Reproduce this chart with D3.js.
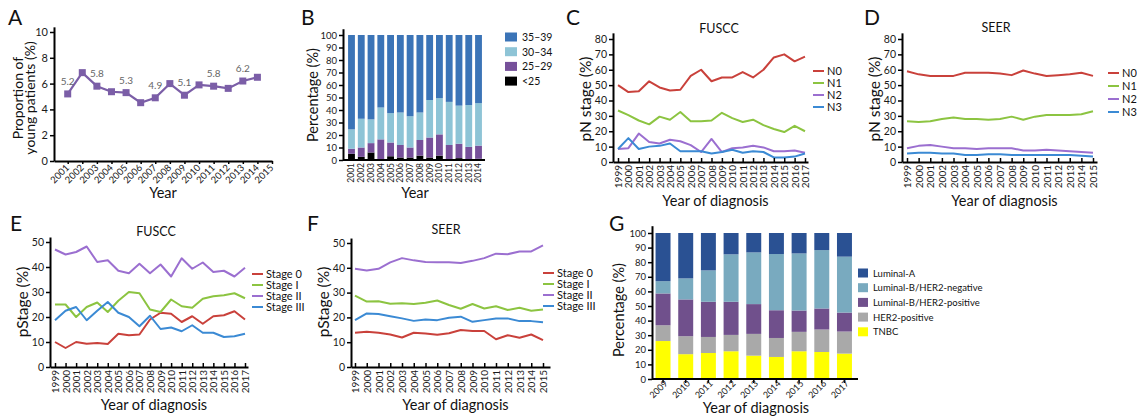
<!DOCTYPE html>
<html>
<head>
<meta charset="utf-8">
<script src="https://cdn.jsdelivr.net/npm/d3@7"></script>
<style>
  body { margin: 0; background: #fff; }
  svg { display: block; }
</style>
</head>
<body>
<svg id="fig" width="1137" height="417"></svg>
<script>
// ── DATA ───────────────────────────────────────────────────────────────────────
// A: proportion of young patients
const yearsA  = [2001, 2002, 2003, 2004, 2005, 2006, 2007, 2008, 2009, 2010, 2011, 2012, 2013, 2014];
const ticksA  = [2001, 2002, 2003, 2004, 2005, 2006, 2007, 2008, 2009, 2010, 2011, 2012, 2013, 2014, 2015];
const propA   = [5.2, 6.85, 5.8, 5.37, 5.3, 4.52, 4.9, 6.0, 5.1, 5.9, 5.8, 5.63, 6.2, 6.49];
const labelYearsA = [2001, 2003, 2005, 2007, 2009, 2011, 2013];

// B: age groups (stacked %)
const yearsB  = ["2001", "2002", "2003", "2004", "2005", "2006", "2007", "2008", "2009", "2010", "2011", "2012", "2013", "2014"];
const groupsB = ["<25", "25–29", "30–34", "35–39"];
const under25 = [5, 2.5, 6, 0.5, 3, 2, 2, 3.5, 2, 3.5, 0.5, 1.5, 0.5, 1];
const age2529 = [4, 7.5, 7.5, 16, 11, 10, 8, 12.5, 16, 17, 11.5, 11.5, 10, 10.5];
const age3034 = [15.5, 23, 19, 25.5, 23.5, 26, 25, 22, 30, 29, 34.5, 30.5, 33.5, 34];
const age3539 = [75.5, 67, 67.5, 58, 62.5, 62, 65, 62, 52, 50.5, 53.5, 56.5, 56, 54.5];

// C / E: FUSCC 1999–2017
const yearsFUSCC = [1999, 2000, 2001, 2002, 2003, 2004, 2005, 2006, 2007, 2008, 2009, 2010, 2011, 2012, 2013, 2014, 2015, 2016, 2017];
const fusccN0 = [50, 45.5, 46, 52.5, 48.5, 46.5, 47, 56, 60, 52.5, 55, 55, 58.5, 55, 60, 68, 70, 65.5, 68.5];
const fusccN1 = [33.5, 30.5, 27, 24.5, 29.5, 27.5, 32.5, 26.5, 26.5, 27, 32, 28.5, 26, 27.5, 24, 21.5, 19.5, 23.5, 20];
const fusccN2 = [8.5, 9, 18.5, 13, 12, 14.5, 13.5, 11, 6.5, 15, 6.5, 9, 9.5, 10.5, 9.5, 7, 7, 7.5, 6];
const fusccN3 = [8.5, 15.5, 8.5, 10, 10.5, 12, 7, 7, 7, 5.5, 6.5, 8, 6, 7, 6.5, 3, 3, 3.5, 5.5];

const fusccS0   = [10, 7.6, 10, 9.3, 9.6, 9.2, 13.3, 12.7, 13, 19, 21.7, 21.3, 18, 20.3, 17.3, 20.3, 20.7, 22.3, 19];
const fusccS1   = [25, 25, 20, 24, 25.8, 22, 26.5, 30, 29.5, 23, 22, 27, 24.3, 23.7, 27.3, 28.3, 28.7, 29.5, 27.5];
const fusccS2   = [47, 45, 46, 48.2, 42, 42.7, 38.5, 37.5, 41.3, 37.5, 41, 36.2, 43.5, 39.3, 41.8, 38, 38.5, 36.2, 39.7];
const fusccS3   = [18.7, 22.5, 24, 18.7, 22.5, 26, 21.7, 20, 16.3, 20.5, 15.2, 15.8, 14.3, 16.7, 13.7, 13.7, 12, 12.3, 13.3];

// D / F: SEER 1999–2015
const yearsSEER = [1999, 2000, 2001, 2002, 2003, 2004, 2005, 2006, 2007, 2008, 2009, 2010, 2011, 2012, 2013, 2014, 2015];
const seerN0 = [59, 57, 56, 56, 56, 58, 58, 58, 57.5, 56.5, 59.5, 57.5, 56, 56.5, 57, 58, 56];
const seerN1 = [26.5, 26, 26.5, 28, 29, 28, 28, 27.5, 28, 29.5, 27.5, 29.5, 30.5, 30.5, 30.5, 31, 33];
const seerN2 = [9, 10.5, 11, 10, 9, 9, 8.5, 9, 9, 9, 7.5, 7.5, 8, 7.5, 7, 6.5, 6];
const seerN3 = [5.5, 6, 6, 5.5, 5.5, 4.5, 4.5, 5, 5, 4.5, 4.5, 4.5, 4.5, 4.5, 4.5, 4, 3.5];

const seerS0 = [13.8, 14.2, 13.8, 13.1, 11.9, 13.8, 13.5, 13, 13.6, 14.9, 14.5, 14.5, 11.2, 12.8, 11.8, 13.1, 10.8];
const seerS1 = [28.8, 26.4, 26.5, 25.5, 25.7, 25.4, 25.9, 26.8, 25, 23.5, 25.4, 23.6, 24.5, 23, 23.9, 22.7, 23.2];
const seerS2 = [39.6, 38.9, 39.6, 42.2, 43.9, 43, 42.3, 42.2, 42.2, 41.9, 42.8, 43.9, 45.7, 45.5, 46.6, 46.6, 49];
const seerS3 = [18.9, 21.6, 21.4, 20.5, 19.6, 18.6, 19.2, 18.9, 19.9, 20.3, 18.2, 18.9, 19.6, 19.6, 18.5, 18.5, 18];

const nNames     = ["N0", "N1", "N2", "N3"];
const stageNames = ["Stage 0", "Stage I", "Stage II", "Stage III"];

// G: molecular subtypes (stacked %)
const yearsG    = ["2009", "2010", "2011", "2012", "2013", "2014", "2015", "2016", "2017"];
const subtypesG = ["TNBC", "HER2-positive", "Luminal-B/HER2-positive", "Luminal-B/HER2-negative", "Luminal-A"];
const tnbc      = [26, 17, 17.8, 19, 16, 15.1, 19, 18.5, 17.4];
const her2pos   = [10.8, 12.3, 11, 11.2, 14.9, 13, 13.3, 15.4, 15.1];
const lumBpos   = [21.8, 25.2, 24.1, 22.7, 20.4, 19, 14.6, 14.4, 13];
const lumBneg   = [8.4, 14.4, 21.5, 32.5, 35.4, 38.5, 39.1, 40, 38.3];
const lumA      = [33, 31.1, 25.6, 14.6, 13.3, 14.4, 14, 11.7, 16.2];

// ── STYLE ──────────────────────────────────────────────────────────────────────
const FONT = "Lato, 'Open Sans', sans-serif";
const lineColors = ["#c9413b", "#8cc441", "#9b6fd0", "#3b8ad4"];
const colorA     = "#7b5ea7";
const colorsB    = ["#000000", "#76509a", "#8ec4d6", "#3b74b7"];
const colorsG    = ["#ffff00", "#a9a9a9", "#70508c", "#79aabf", "#2a5193"];

const svg = d3.select("#fig").attr("font-family", FONT);

// ── HELPERS ────────────────────────────────────────────────────────────────────
function styleAxis(g, fs) {
  g.attr("font-family", FONT).attr("font-size", fs);
  g.select(".domain").attr("stroke", "#000").attr("stroke-width", 2);
  g.selectAll(".tick line").attr("stroke", "#000").attr("stroke-width", 1.5);
  g.selectAll(".tick text").attr("fill", "#1a1a1a");
  return g;
}

function text(x, y, s, size, opts = {}) {
  const t = svg.append("text")
    .attr("x", x).attr("y", y)
    .attr("font-size", size)
    .attr("fill", opts.fill || "#111")
    .attr("text-anchor", opts.anchor || "middle")
    .text(s);
  if (opts.rotate) t.attr("transform", `rotate(-90,${x},${y})`);
  return t;
}

function letter(x, y, s) { text(x, y, s, 21, { anchor: "start" }); }

function yAxis(y, xPix, ticks, fs) {
  const g = svg.append("g").attr("transform", `translate(${xPix},0)`)
    .call(d3.axisLeft(y).tickValues(ticks).tickSizeInner(4).tickSizeOuter(0).tickPadding(2));
  return styleAxis(g, fs);
}

// rotated year labels, reading bottom to top
function vertLabels(g) {
  g.selectAll(".tick text")
    .attr("transform", "rotate(-90)")
    .attr("text-anchor", "end")
    .attr("x", -3).attr("y", 0).attr("dy", "0.35em");
}

function diagLabels(g, dx, dy) {
  g.selectAll(".tick text")
    .attr("transform", "rotate(-45)")
    .attr("text-anchor", "end")
    .attr("x", dx).attr("y", dy).attr("dy", "0.35em");
}

// ── LINE PANELS (C–F) ──────────────────────────────────────────────────────────
function linePanel(p) {
  const x  = d3.scaleLinear([p.years[0], p.years[p.years.length - 1]], [p.xFirst, p.xLast]);
  const xa = d3.scaleLinear([x.invert(p.axisX0), x.invert(p.axisX1)], [p.axisX0, p.axisX1]);
  const yRef = d3.scaleLinear([0, p.yRefVal], [p.yZero, p.yRefPix]);
  const y  = d3.scaleLinear([0, p.yAxisTop], [p.yZero, yRef(p.yAxisTop)]);

  p.series.forEach((s, i) => {
    svg.append("path").datum(s)
      .attr("fill", "none")
      .attr("stroke", lineColors[i])
      .attr("stroke-width", 2)
      .attr("stroke-linejoin", "round")
      .attr("d", d3.line().x((d, j) => x(p.years[j])).y(d => y(d)));
  });

  yAxis(y, p.axisX0, p.yTicks, p.tickFs);

  const gx = svg.append("g").attr("transform", `translate(0,${p.yZero})`)
    .call(d3.axisBottom(xa).tickValues(p.years).tickFormat(d3.format("d"))
      .tickSizeInner(-4).tickSizeOuter(0));
  styleAxis(gx, 10);
  vertLabels(gx);

  // legend
  p.names.forEach((n, i) => {
    const ly = p.legY + i * p.legDy;
    svg.append("line")
      .attr("x1", p.legX).attr("x2", p.legX + 11)
      .attr("y1", ly).attr("y2", ly)
      .attr("stroke", lineColors[i]).attr("stroke-width", 2);
    text(p.legX + 14, ly + 4, n, p.legFs, { anchor: "start" });
  });

  text(p.titleX, p.titleY, p.title, 12.5);
  text((p.axisX0 + p.axisX1) / 2 + 5, p.xlabY, "Year of diagnosis", 14.5);
  text(p.ylabX, p.ylabY, p.ylab, 15.5, { rotate: true });
}

// ── PANEL A ────────────────────────────────────────────────────────────────────
(function panelA() {
  const x = d3.scaleLinear([2001, 2015], [67.7, 272]);
  const xa = d3.scaleLinear([x.invert(54), 2015], [54, 272]);
  const y = d3.scaleLinear([0, 10.4], [161, 161 - 10.4 * 12.9]);

  svg.append("path").datum(propA)
    .attr("fill", "none").attr("stroke", colorA).attr("stroke-width", 2.2)
    .attr("d", d3.line().x((d, i) => x(yearsA[i])).y(d => y(d)));

  svg.append("g").selectAll("rect").data(propA).join("rect")
    .attr("x", (d, i) => x(yearsA[i]) - 3.5)
    .attr("y", d => y(d) - 3.5)
    .attr("width", 7).attr("height", 7)
    .attr("fill", colorA);

  svg.append("g").selectAll("text").data(labelYearsA).join("text")
    .attr("x", d => x(d))
    .attr("y", d => y(propA[yearsA.indexOf(d)]) - 9)
    .attr("text-anchor", "middle")
    .attr("font-size", 10)
    .attr("fill", "#666")
    .text(d => propA[yearsA.indexOf(d)].toFixed(1));

  yAxis(y, 54, [0, 2, 4, 6, 8, 10], 11);
  const gx = svg.append("g").attr("transform", `translate(0,161)`)
    .call(d3.axisBottom(xa).tickValues(ticksA).tickFormat(d3.format("d"))
      .tickSizeInner(3).tickSizeOuter(0));
  styleAxis(gx, 9.5);
  diagLabels(gx, -4, 3);

  letter(8, 25, "A");
  text(163, 198, "Year", 14.5);
  text(22.5, 98, "Proportion of", 14, { rotate: true });
  text(35, 98, "young patients (%)", 14, { rotate: true });
})();

// ── PANEL B ────────────────────────────────────────────────────────────────────
(function panelB() {
  const x = d3.scaleBand(yearsB, [346.6, 483.4]).paddingInner(0.3).paddingOuter(0.15);
  const y = d3.scaleLinear([0, 105], [160, 160 - 105 * 1.25]);
  const cols = [under25, age2529, age3034, age3539];
  const rows = yearsB.map((yr, i) => {
    const r = { year: yr };
    groupsB.forEach((gname, k) => r[gname] = cols[k][i]);
    return r;
  });
  const stacked = d3.stack().keys(groupsB)(rows);

  svg.append("g").selectAll("g").data(stacked).join("g")
    .attr("fill", (d, i) => colorsB[i])
    .selectAll("rect").data(d => d).join("rect")
      .attr("x", d => x(d.data.year))
      .attr("width", x.bandwidth())
      .attr("y", d => y(d[1]))
      .attr("height", d => y(d[0]) - y(d[1]));

  yAxis(y, 343, d3.range(0, 101, 10), 9.5);
  const gx = svg.append("g").attr("transform", `translate(0,160)`)
    .call(d3.axisBottom(x).tickSize(0).tickSizeOuter(0));
  styleAxis(gx, 8.5);
  gx.select(".domain").attr("d", "M343,0H485");
  vertLabels(gx);

  // legend, top entry is the oldest group
  groupsB.slice().reverse().forEach((gname, i) => {
    const ly = 37 + i * 14.7;
    svg.append("rect").attr("x", 505).attr("y", ly - 4.5)
      .attr("width", 12).attr("height", 9)
      .attr("fill", colorsB[groupsB.length - 1 - i]);
    text(522, ly + 4, gname, 10.5, { anchor: "start" });
  });

  letter(301, 25, "B");
  text(415, 198, "Year", 14.5);
  text(318, 95, "Percentage (%)", 14.5, { rotate: true });
})();

// ── PANELS C, D, E, F ──────────────────────────────────────────────────────────
linePanel({
  years: yearsFUSCC, series: [fusccN0, fusccN1, fusccN2, fusccN3], names: nNames,
  xFirst: 618, xLast: 805, axisX0: 613, axisX1: 808,
  yZero: 162, yRefVal: 80, yRefPix: 39, yAxisTop: 84, yTicks: d3.range(0, 81, 10), tickFs: 10.5,
  legX: 813, legY: 71, legDy: 12, legFs: 11,
  title: "FUSCC", titleX: 719, titleY: 33,
  xlabY: 206, ylab: "pN stage (%)", ylabX: 591, ylabY: 99
});
letter(566, 25, "C");

linePanel({
  years: yearsSEER, series: [seerN0, seerN1, seerN2, seerN3], names: nNames,
  xFirst: 907, xLast: 1093, axisX0: 902, axisX1: 1097,
  yZero: 162, yRefVal: 80, yRefPix: 39, yAxisTop: 84, yTicks: d3.range(0, 81, 10), tickFs: 10.5,
  legX: 1108, legY: 73, legDy: 13, legFs: 11,
  title: "SEER", titleX: 996, titleY: 32,
  xlabY: 206, ylab: "pN stage (%)", ylabX: 880, ylabY: 99
});
letter(864, 25, "D");

linePanel({
  years: yearsFUSCC, series: [fusccS0, fusccS1, fusccS2, fusccS3], names: stageNames,
  xFirst: 55, xLast: 245, axisX0: 50, axisX1: 248,
  yZero: 367, yRefVal: 50, yRefPix: 242, yAxisTop: 52, yTicks: d3.range(0, 51, 10), tickFs: 10.5,
  legX: 252, legY: 274, legDy: 11, legFs: 11,
  title: "FUSCC", titleX: 156, titleY: 236,
  xlabY: 410, ylab: "pStage (%)", ylabX: 28, ylabY: 302
});
letter(10, 231, "E");

linePanel({
  years: yearsSEER, series: [seerS0, seerS1, seerS2, seerS3], names: stageNames,
  xFirst: 355, xLast: 543, axisX0: 351, axisX1: 550,
  yZero: 367, yRefVal: 50, yRefPix: 243, yAxisTop: 52, yTicks: d3.range(0, 51, 10), tickFs: 10.5,
  legX: 543, legY: 273, legDy: 11, legFs: 11,
  title: "SEER", titleX: 446, titleY: 234,
  xlabY: 410, ylab: "pStage (%)", ylabX: 329, ylabY: 302
});
letter(307, 231, "F");

// ── PANEL G ────────────────────────────────────────────────────────────────────
(function panelG() {
  const x = d3.scaleBand(yearsG, [651.7, 855.8]).paddingInner(0.34).paddingOuter(0.17);
  const y = d3.scaleLinear([0, 105], [379, 379 - 105 * 1.46]);
  const cols = [tnbc, her2pos, lumBpos, lumBneg, lumA];
  const rows = yearsG.map((yr, i) => {
    const r = { year: yr };
    subtypesG.forEach((s, k) => r[s] = cols[k][i]);
    return r;
  });
  const stacked = d3.stack().keys(subtypesG)(rows);

  svg.append("g").selectAll("g").data(stacked).join("g")
    .attr("fill", (d, i) => colorsG[i])
    .selectAll("rect").data(d => d).join("rect")
      .attr("x", d => x(d.data.year))
      .attr("width", x.bandwidth())
      .attr("y", d => y(d[1]))
      .attr("height", d => y(d[0]) - y(d[1]));

  yAxis(y, 652, d3.range(0, 101, 10), 9.5);
  const gx = svg.append("g").attr("transform", `translate(0,379)`)
    .call(d3.axisBottom(x).tickSizeInner(4).tickSizeOuter(0));
  styleAxis(gx, 9);
  gx.select(".domain").attr("d", "M652,0H858");
  diagLabels(gx, 0, 4);

  subtypesG.slice().reverse().forEach((s, i) => {
    const ly = 273 + i * 14.7;
    svg.append("rect").attr("x", 858).attr("y", ly - 4.5)
      .attr("width", 10).attr("height", 9)
      .attr("fill", colorsG[subtypesG.length - 1 - i]);
    text(873, ly + 3.5, s, 9.5, { anchor: "start" });
  });

  letter(609, 231, "G");
  text(756, 413, "Year of diagnosis", 14.5);
  text(624, 310, "Percentage (%)", 14.5, { rotate: true });
})();
</script>
</body>
</html>
